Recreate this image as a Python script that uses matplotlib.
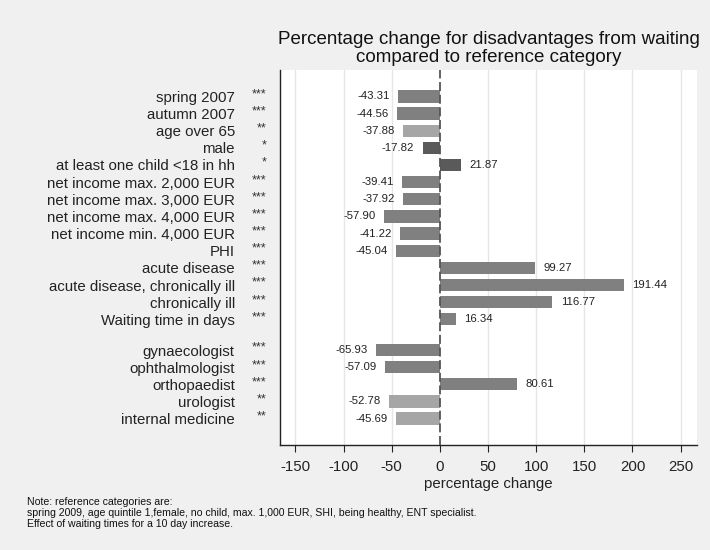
import matplotlib
matplotlib.use("Agg")
import matplotlib.pyplot as plt

plt.rcParams['font.family'] = ['Liberation Sans', 'DejaVu Sans']

categories = ["spring 2007", "autumn 2007", "age over 65", "male",
              "at least one child <18 in hh", "net income max. 2,000 EUR",
              "net income max. 3,000 EUR", "net income max. 4,000 EUR",
              "net income min. 4,000 EUR", "PHI", "acute disease",
              "acute disease, chronically ill", "chronically ill",
              "Waiting time in days",
              "gynaecologist", "ophthalmologist", "orthopaedist", "urologist",
              "internal medicine"]
values = [-43.31, -44.56, -37.88, -17.82, 21.87, -39.41, -37.92, -57.90,
          -41.22, -45.04, 99.27, 191.44, 116.77, 16.34,
          -65.93, -57.09, 80.61, -52.78, -45.69]
stars = ["***", "***", "**", "*", "*", "***", "***", "***", "***", "***",
         "***", "***", "***", "***", "***", "***", "***", "**", "**"]
group_sizes = [14, 5]
xticks = [-150, -100, -50, 0, 50, 100, 150, 200, 250]
note_lines = ["Note: reference categories are:",
              "spring 2009, age quintile 1,female, no child, max. 1,000 EUR, SHI, being healthy, ENT specialist.",
              "Effect of waiting times for a 10 day increase."]

star_colors = {"***": "#808080", "**": "#a6a6a6", "*": "#5a5a5a"}
GAP = 1.79

positions = []
start = 0.0
for g in group_sizes:
    positions += [start + i for i in range(g)]
    start = positions[-1] + GAP

fig = plt.figure(figsize=(7.1, 5.5), dpi=100, facecolor="#f0f0f0")
ax = fig.add_axes([280/710, 105/550, 417/710, 375/550])
ax.set_facecolor("white")

ax.set_xlim(-166, 267)
ax.set_ylim(positions[-1] + 1.54, -1.54)

for x in xticks:
    if x != 0:
        ax.axvline(x, color="#e6e6e6", lw=1, zorder=0)

colors = [star_colors[s] for s in stars]
ax.barh(positions, values, height=0.72, color=colors, edgecolor="none", zorder=2)
ax.axvline(0, color="#555555", lw=1.3, ls=(0, (5, 2)), zorder=3)

for p, v in zip(positions, values):
    if v < 0:
        ax.annotate(f"{v:.2f}", (v, p), xytext=(-6, 0), textcoords="offset points",
                    ha="right", va="center", fontsize=8.2, color="#222222")
    else:
        ax.annotate(f"{v:.2f}", (v, p), xytext=(6, 0), textcoords="offset points",
                    ha="left", va="center", fontsize=8.2, color="#222222")

ax.set_yticks(positions)
ax.set_yticklabels(categories, fontsize=10.8, color="#222222")
ax.tick_params(axis="y", length=0, pad=32.5)

trans = ax.get_yaxis_transform()
for p, s in zip(positions, stars):
    ax.annotate(s, (0, p), xycoords=trans, xytext=(-9.5, 1.5), textcoords="offset points",
                ha="right", va="center", fontsize=9, color="#333333")

ax.set_xticks(xticks)
ax.set_xticklabels([str(x) for x in xticks], fontsize=10.8, color="#222222")
ax.tick_params(axis="x", length=5, width=0.8, color="#222222", pad=6)
ax.set_xlabel("percentage change", fontsize=10.8, color="#222222", labelpad=2)

for side in ["top", "right"]:
    ax.spines[side].set_visible(False)
for side in ["left", "bottom"]:
    ax.spines[side].set_color("#222222")
    ax.spines[side].set_linewidth(1)

ax.set_title("Percentage change for disadvantages from waiting\ncompared to reference category",
             fontsize=13.5, color="#111111", pad=6, linespacing=1.05)

for line, base in zip(note_lines, [505, 516, 527]):
    fig.text(27/710, 1 - base/550, line, fontsize=7.6, va="baseline", ha="left",
             color="#111111")

fig.savefig("out.png", dpi=100, facecolor=fig.get_facecolor())
